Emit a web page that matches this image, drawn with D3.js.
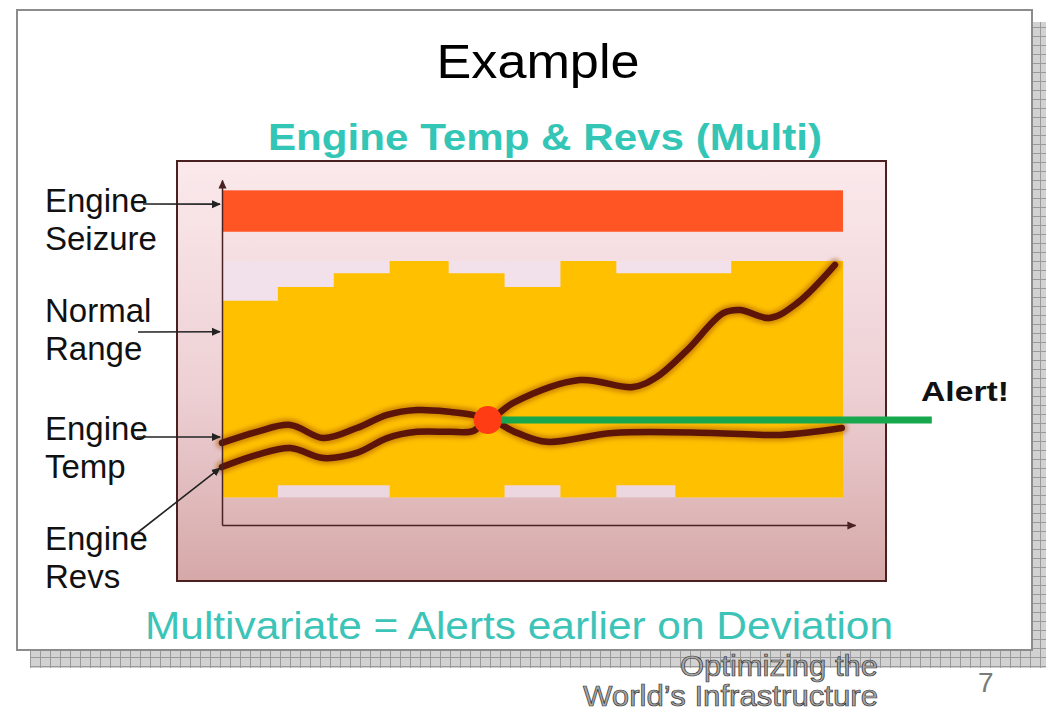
<!DOCTYPE html>
<html>
<head>
<meta charset="utf-8">
<script src="https://cdn.jsdelivr.net/npm/d3@7"></script>
<style>
  body { margin: 0; background: #fff; }
  text { font-family: "Liberation Sans", Arial, sans-serif; }
</style>
</head>
<body>
<div id="slide"></div>
<script>
// data (values on a 0-100 scale for both axes)

// engine seizure band
var seizureBand = [85, 97];

// normal range is stepped: segment edges on the time axis, top / bottom of each segment
var rangeEdges = [0, 9, 18, 27, 36.5, 45.5, 54.5, 63.5, 73, 82, 100];
var rangeTop = [65, 69, 73, 76.5, 73, 69, 76.5, 73, 73, 76.5];
var rangeBottom = [8, 11.5, 11.5, 8, 8, 11.5, 8, 11.5, 8, 8];

// engine temp
var tempX = [0, 5.6, 11, 16.3, 21.7, 26.6, 31.4, 36.7, 40.4, 42.8, 46.9, 57.6, 66.2, 70, 74.9, 80.7, 83.4, 88.2, 92.6, 98.7];
var tempY = [23.8, 27, 29, 25.2, 28.1, 31.9, 33.3, 32.8, 31.9, 30.4, 35.4, 42, 40, 42.9, 50.7, 61.4, 62.3, 60, 64.3, 75.4];

// engine revs
var revsX = [0, 5.6, 11, 16.3, 21.7, 26.6, 31.4, 36.7, 40.4, 42.8, 47.5, 52.3, 63, 79, 89.9, 99.8];
var revsY = [16.8, 20.3, 22.3, 19.4, 20.9, 25.2, 27, 27, 27.2, 30.4, 26.7, 24.1, 26.7, 26.7, 26.1, 28.1];

// alert point and the alert line running out past the chart
var alertX = 42.8;
var alertY = 30.4;
var alertLineEnd = 114.3;

// labels on the left and the value each one points at
var labelLines = [["Engine", "Seizure"], ["Normal", "Range"], ["Engine", "Temp"], ["Engine", "Revs"]];
var labelTargets = [93, 56, 25.5, 16.5];

// texts
var titleText = "Example";
var chartTitle = "Engine Temp & Revs (Multi)";
var alertText = "Alert!";
var footText = "Multivariate = Alerts earlier on Deviation";
var brandLines = ["Optimizing the", "World\u2019s Infrastructure"];
var pageNumber = "7";

// layout
var W = 1046, H = 712;
var labelBase = [212, 322, 440, 550];
var arrowStart = [[143, 204], [138, 332], [137, 437], [137, 533]];
var brandWidth = [198, 295];

var svg = d3
  .select("#slide")
  .append("svg")
  .attr("width", W)
  .attr("height", H);

var defs = svg.append("defs");

// slide shadow pattern
var pat = defs
  .append("pattern")
  .attr("id", "grid")
  .attr("patternUnits", "userSpaceOnUse")
  .attr("width", 10)
  .attr("height", 9);
pat.append("rect").attr("width", 10).attr("height", 9).attr("fill", "#d2d2d2");
pat.append("path").attr("d", "M0,0.5H10M0.5,0V9").attr("stroke", "#9a9a9a").attr("stroke-width", 1);

// chart background gradient
var grad = defs
  .append("linearGradient")
  .attr("id", "bg")
  .attr("x1", 0).attr("y1", 0).attr("x2", 0).attr("y2", 1);
grad.append("stop").attr("offset", "0%").attr("stop-color", "#fbe9ec");
grad.append("stop").attr("offset", "55%").attr("stop-color", "#edd0d4");
grad.append("stop").attr("offset", "100%").attr("stop-color", "#d6a8a8");

// soft glow around the lines
defs
  .append("filter")
  .attr("id", "glow")
  .attr("x", "-10%").attr("y", "-30%").attr("width", "120%").attr("height", "160%")
  .append("feGaussianBlur")
  .attr("stdDeviation", 2);

// arrow markers
function marker(id, color, orient, size) {
  defs
    .append("marker")
    .attr("id", id)
    .attr("viewBox", "0 -5 10 10")
    .attr("refX", 9)
    .attr("refY", 0)
    .attr("markerUnits", "userSpaceOnUse")
    .attr("markerWidth", size)
    .attr("markerHeight", size)
    .attr("orient", orient)
    .append("path")
    .attr("d", "M0,-4.5L10,0L0,4.5Z")
    .attr("fill", color);
}
marker("arrLabel", "#222", "auto", 9);
marker("arrUp", "#4a2222", "-90", 9);
marker("arrRight", "#4a2222", "0", 9);

// slide frame with its shadow
svg.append("rect")
  .attr("x", 30).attr("y", 22)
  .attr("width", 1030).attr("height", 646)
  .attr("fill", "url(#grid)");
svg.append("rect")
  .attr("x", 17).attr("y", 10)
  .attr("width", 1015).attr("height", 640)
  .attr("fill", "#fff")
  .attr("stroke", "#8c8c8c")
  .attr("stroke-width", 2);

// titles
svg.append("text")
  .attr("x", 538).attr("y", 78)
  .attr("text-anchor", "middle")
  .attr("textLength", 203)
  .attr("lengthAdjust", "spacingAndGlyphs")
  .style("font-size", "48px")
  .style("fill", "#000")
  .text(titleText);

svg.append("text")
  .attr("x", 545).attr("y", 150)
  .attr("text-anchor", "middle")
  .attr("textLength", 554)
  .attr("lengthAdjust", "spacingAndGlyphs")
  .style("font-size", "37px")
  .style("font-weight", "bold")
  .style("fill", "#33c6b6")
  .text(chartTitle);

// chart frame
svg.append("rect")
  .attr("x", 177).attr("y", 161)
  .attr("width", 709).attr("height", 420)
  .attr("fill", "url(#bg)")
  .attr("stroke", "#4b2020")
  .attr("stroke-width", 2);

// scales
var x = d3.scaleLinear().domain([0, 100]).range([222, 843]);
var y = d3.scaleLinear().domain([0, 100]).range([525, 180]);

var plot = svg.append("g");

// seizure band
plot.append("rect")
  .attr("x", x(0))
  .attr("y", y(seizureBand[1]))
  .attr("width", x(100) - x(0))
  .attr("height", y(seizureBand[0]) - y(seizureBand[1]))
  .attr("fill", "#ff5424");

// pale envelope behind the normal range
plot.append("rect")
  .attr("x", x(0))
  .attr("y", y(d3.max(rangeTop)))
  .attr("width", x(100) - x(0))
  .attr("height", y(d3.min(rangeBottom)) - y(d3.max(rangeTop)))
  .attr("fill", "#f1e3ef")
  .attr("opacity", 0.7);

// normal range (stepped area)
var steps = [];
rangeTop.forEach(function (t, i) {
  steps.push({ x: rangeEdges[i], top: t, bottom: rangeBottom[i] });
  steps.push({ x: rangeEdges[i + 1], top: t, bottom: rangeBottom[i] });
});
plot.append("path")
  .datum(steps)
  .attr("fill", "#ffc000")
  .attr("d", d3.area()
    .x(function (d) { return x(d.x); })
    .y0(function (d) { return y(d.bottom); })
    .y1(function (d) { return y(d.top); }));

// engine lines
var line = d3.line()
  .x(function (d) { return x(d[0]); })
  .y(function (d) { return y(d[1]); })
  .curve(d3.curveCatmullRom.alpha(0.5));

[d3.zip(tempX, tempY), d3.zip(revsX, revsY)].forEach(function (pts) {
  plot.append("path")
    .datum(pts)
    .attr("fill", "none")
    .attr("stroke", "#a85800")
    .attr("stroke-width", 12)
    .attr("stroke-linecap", "round")
    .attr("opacity", 0.55)
    .attr("filter", "url(#glow)")
    .attr("d", line);
  plot.append("path")
    .datum(pts)
    .attr("fill", "none")
    .attr("stroke", "#5c1508")
    .attr("stroke-width", 6.5)
    .attr("stroke-linecap", "round")
    .attr("d", line);
});

// alert line and point
plot.append("line")
  .attr("x1", x(alertX)).attr("x2", x(alertLineEnd))
  .attr("y1", y(alertY)).attr("y2", y(alertY))
  .attr("stroke", "#17a84e")
  .attr("stroke-width", 7);
plot.append("circle")
  .attr("cx", x(alertX))
  .attr("cy", y(alertY))
  .attr("r", 14)
  .attr("fill", "#ff3c14");

svg.append("text")
  .attr("x", 921).attr("y", 401)
  .attr("textLength", 88)
  .attr("lengthAdjust", "spacingAndGlyphs")
  .style("font-size", "28px")
  .style("font-weight", "bold")
  .style("fill", "#111")
  .text(alertText);

// axes: bare lines with arrow heads
var yAx = svg.append("g")
  .attr("transform", "translate(" + x(0) + ",0)")
  .call(d3.axisLeft(y).tickValues([]).tickSizeOuter(0));
yAx.select(".domain")
  .attr("stroke", "#4a2222")
  .attr("stroke-width", 1.5)
  .attr("marker-end", "url(#arrUp)");

var xAxisScale = x.copy().domain([0, x.invert(855)]).range([222, 855]);
var xAx = svg.append("g")
  .attr("transform", "translate(0," + y(0) + ")")
  .call(d3.axisBottom(xAxisScale).tickValues([]).tickSizeOuter(0));
xAx.select(".domain")
  .attr("stroke", "#4a2222")
  .attr("stroke-width", 1.5)
  .attr("marker-end", "url(#arrRight)");

// left labels with their arrows
labelLines.forEach(function (lines, i) {
  lines.forEach(function (s, j) {
    svg.append("text")
      .attr("x", 45)
      .attr("y", labelBase[i] + j * 38)
      .style("font-size", "33px")
      .style("fill", "#111")
      .text(s);
  });
  svg.append("line")
    .attr("x1", arrowStart[i][0])
    .attr("y1", arrowStart[i][1])
    .attr("x2", x(0) - 2)
    .attr("y2", y(labelTargets[i]))
    .attr("stroke", "#222")
    .attr("stroke-width", 1.6)
    .attr("marker-end", "url(#arrLabel)");
});

// footer
svg.append("text")
  .attr("x", 519).attr("y", 639)
  .attr("text-anchor", "middle")
  .attr("textLength", 748)
  .attr("lengthAdjust", "spacingAndGlyphs")
  .style("font-size", "38px")
  .style("fill", "#3cc4b8")
  .text(footText);

brandLines.forEach(function (s, i) {
  svg.append("text")
    .attr("x", 878)
    .attr("y", 676 + i * 30)
    .attr("text-anchor", "end")
    .attr("textLength", brandWidth[i])
    .attr("lengthAdjust", "spacingAndGlyphs")
    .style("font-size", "29px")
    .style("fill", "#a8a8a8")
    .style("stroke", "#333")
    .style("stroke-width", 0.7)
    .text(s);
});

svg.append("text")
  .attr("x", 978).attr("y", 692)
  .style("font-size", "28px")
  .style("fill", "#7a7a7a")
  .text(pageNumber);
</script>
</body>
</html>
